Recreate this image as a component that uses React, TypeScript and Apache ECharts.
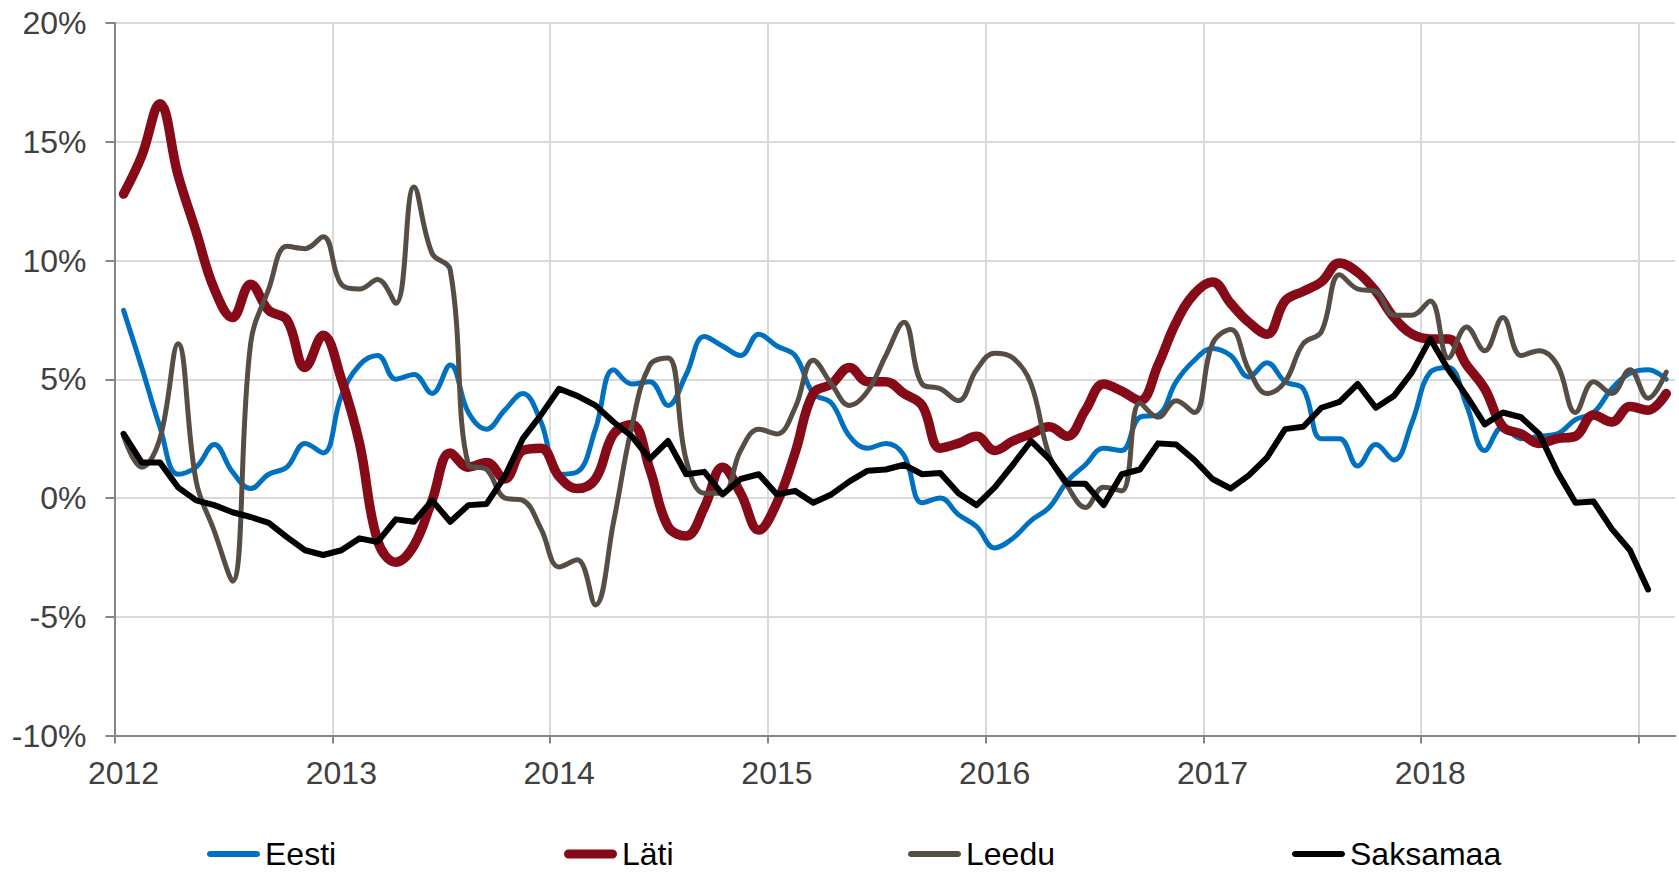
import React, { useEffect, useRef } from "react";
import * as echarts from "echarts";

// Monthly values, Jan 2012 onward (%)
const years = ["2012", "2013", "2014", "2015", "2016", "2017", "2018"];
const seriesNames = ["Eesti", "Läti", "Leedu", "Saksamaa"];

const eesti = [
  7.9, 5.5, 3.0, 1.0, 1.3, 2.25, 1.1, 0.4, 1.0, 1.3, 2.3, 1.9,
  4.3, 5.6, 6.0, 5.0, 5.2, 4.4, 5.6, 3.6, 2.9, 3.7, 4.4, 3.2,
  1.0, 1.1, 2.9, 5.4, 4.8, 4.9, 3.9, 5.2, 6.8, 6.4, 6.0, 6.9,
  6.4, 6.0, 4.4, 4.0, 2.6, 2.1, 2.3, 1.8, -0.2, 0.0, -0.7, -1.2,
  -2.1, -1.7, -0.95, -0.4, 0.7, 1.4, 2.1, 2.0, 3.4, 3.5, 4.9, 5.8,
  6.3, 6.0, 5.1, 5.7, 4.9, 4.6, 2.5, 2.5, 1.35, 2.25, 1.6, 3.2,
  5.3, 5.5, 3.9, 2.0, 3.0, 2.5, 2.6, 2.7, 3.3, 3.6, 4.6, 5.25,
  5.4, 5.0,
];

const lati = [
  12.8, 14.4, 16.6, 13.6, 11.2, 8.8, 7.6, 9.0, 7.9, 7.5, 5.5, 6.85,
  5.0, 2.3, -1.8, -2.7, -2.0, -0.1, 1.9, 1.3, 1.5, 0.8, 2.0, 2.1,
  0.9, 0.4, 0.8, 2.7, 3.1, 1.2, -1.2, -1.6, -0.4, 1.3, 0.2, -1.35,
  -0.2, 1.9, 4.4, 4.8, 5.5, 4.9, 4.9, 4.4, 3.9, 2.1, 2.3, 2.6,
  2.0, 2.4, 2.7, 3.0, 2.6, 3.7, 4.8, 4.5, 4.1, 5.6, 7.4, 8.6,
  9.1, 8.2, 7.4, 6.9, 8.3, 8.7, 9.1, 9.9, 9.5, 8.7, 7.6, 6.9,
  6.7, 6.7, 5.6, 4.6, 3.0, 2.7, 2.3, 2.5, 2.6, 3.5, 3.2, 3.85,
  3.7, 4.4,
];

const leedu = [
  2.6, 1.3, 2.5, 6.5, 0.7, -1.4, -3.5, 6.5, 8.8, 10.6, 10.5, 11.0,
  9.0, 8.8, 9.2, 8.2, 13.1, 10.3, 9.6, 1.4, 1.2, 0.0, -0.1, -1.3,
  -2.9, -2.6, -4.5, -1.0, 3.0, 5.6, 5.9, 1.6, 0.2, 0.2, 2.0, 2.9,
  2.7, 3.8, 5.8, 4.8, 3.9, 4.5, 6.0, 7.4, 4.8, 4.6, 4.1, 5.4,
  6.1, 5.9, 4.8, 1.8, 0.5, -0.4, 0.45, 0.3, 4.0, 3.4, 4.1, 3.6,
  6.5, 7.1, 5.4, 4.4, 4.9, 6.5, 7.0, 9.4, 8.8, 8.7, 7.7, 7.7,
  8.3, 5.9, 7.2, 6.2, 7.6, 6.0, 6.2, 5.6, 3.6, 4.9, 4.4, 5.4,
  4.2, 5.3,
];

const saksamaa = [
  2.7, 1.5, 1.5, 0.45, -0.1, -0.3, -0.6, -0.8, -1.05, -1.65, -2.2, -2.4,
  -2.2, -1.7, -1.85, -0.9, -1.0, -0.1, -1.0, -0.3, -0.25, 0.9, 2.5, 3.5,
  4.6, 4.3, 3.9, 3.2, 2.6, 1.65, 2.4, 1.0, 1.1, 0.15, 0.8, 1.0,
  0.15, 0.3, -0.2, 0.15, 0.7, 1.15, 1.2, 1.4, 1.0, 1.05, 0.2, -0.3,
  0.45, 1.4, 2.4, 1.65, 0.6, 0.6, -0.3, 1.0, 1.2, 2.3, 2.25, 1.6,
  0.8, 0.4, 0.95, 1.7, 2.9, 3.0, 3.8, 4.05, 4.8, 3.8, 4.3, 5.3,
  6.7, 5.4, 4.3, 3.1, 3.6, 3.4, 2.7, 1.1, -0.2, -0.15, -1.3, -2.2,
  -3.85,
];

const yTicks = [-10, -5, 0, 5, 10, 15, 20];

const FONT = "'Liberation Sans', Arial, sans-serif";
const TOTAL_MONTHS = 86;

const toPoints = (arr: number[]) => arr.map((v, i) => [i + 0.5, v]);

// rounded bar icon for the legend (width W, height h)
const roundBar = (W: number, h: number) => {
  const r = h / 2;
  const k = 0.5523 * r;
  const f = (n: number) => n.toFixed(3);
  return (
    "path://" +
    `M${f(r)},0 H${f(W - r)} ` +
    `C${f(W - r + k)},0 ${f(W)},${f(r - k)} ${f(W)},${f(r)} ` +
    `C${f(W)},${f(r + k)} ${f(W - r + k)},${f(h)} ${f(W - r)},${f(h)} ` +
    `H${f(r)} ` +
    `C${f(r - k)},${f(h)} 0,${f(r + k)} 0,${f(r)} ` +
    `C0,${f(r - k)} ${f(r - k)},0 ${f(r)},0 Z`
  );
};

export default function App() {
  const ref = useRef<HTMLDivElement>(null);

  useEffect(() => {
    if (!ref.current) return;
    const chart = echarts.init(ref.current, undefined, { renderer: "svg" });

    const yearTickValues = years.map((_, k) => k * 12).concat([years.length * 12]);
    const yearLabelValues = years.map((_, k) => k * 12 + 0.5);

    const lineSeries = (
      name: string,
      data: number[],
      color: string,
      width: number,
      smooth: boolean | number
    ) => ({
      name,
      type: "line",
      data: toPoints(data),
      xAxisIndex: 0,
      yAxisIndex: 0,
      symbol: "none",
      showSymbol: false,
      smooth,
      lineStyle: { color, width, cap: "round", join: "round" },
      itemStyle: { color },
      emphasis: { disabled: true },
    });

    const legendLefts = [207, 564, 908, 1292];
    const legendIconH = [6, 9, 6, 6];

    chart.setOption({
      animation: false,
      backgroundColor: "#ffffff",
      grid: { left: 114.5, right: 3.7, top: 23, bottom: 136.5, containLabel: false },
      legend: seriesNames.map((name, k) => ({
        left: legendLefts[k],
        top: 838,
        padding: 0,
        itemWidth: 53,
        itemHeight: 14,
        itemGap: 0,
        icon: roundBar(53, legendIconH[k]),
        itemStyle: { borderWidth: 0 },
        textStyle: { fontSize: 32, lineHeight: 28, color: "#000000", fontFamily: FONT },
        data: [{ name, icon: roundBar(53, legendIconH[k]) }],
      })),
      xAxis: [
        {
          type: "value",
          min: 0,
          max: TOTAL_MONTHS,
          interval: 12,
          position: "bottom",
          axisLine: { show: false },
          axisTick: { show: false },
          axisLabel: {
            show: true,
            customValues: yearLabelValues,
            formatter: (v: number) => years[Math.floor(v / 12)] ?? "",
            fontSize: 32,
            color: "#404040",
            fontFamily: FONT,
            margin: 21,
          },
          splitLine: {
            show: true,
            showMinLine: true,
            showMaxLine: false,
            lineStyle: { color: "#D9D9D9", width: 2 },
          },
        },
        {
          type: "value",
          min: 0,
          max: TOTAL_MONTHS,
          interval: 12,
          position: "bottom",
          axisLine: { show: true, onZero: true, lineStyle: { color: "#868686", width: 2 } },
          axisTick: {
            show: true,
            inside: false,
            length: 8,
            customValues: yearTickValues,
            lineStyle: { color: "#868686", width: 2 },
          },
          axisLabel: { show: false },
          splitLine: { show: false },
        },
      ],
      yAxis: {
        type: "value",
        min: yTicks[0],
        max: yTicks[yTicks.length - 1],
        interval: 5,
        axisLine: { show: true, lineStyle: { color: "#868686", width: 2 } },
        axisTick: { show: true, inside: false, length: 9, lineStyle: { color: "#868686", width: 2 } },
        axisLabel: {
          formatter: (v: number) => `${v}%`,
          fontSize: 32,
          color: "#404040",
          fontFamily: FONT,
          margin: 28,
        },
        splitLine: { show: true, lineStyle: { color: "#D9D9D9", width: 2 } },
      },
      series: [
        lineSeries("Eesti", eesti, "#0070C0", 5, 0.4),
        lineSeries("Läti", lati, "#870A19", 9.5, 0.4),
        lineSeries("Leedu", leedu, "#564E44", 5, 0.4),
        lineSeries("Saksamaa", saksamaa, "#000000", 6, false),
      ],
    });

    return () => chart.dispose();
  }, []);

  return (
    <div
      ref={ref}
      style={{ position: "absolute", left: 0, top: 0, width: 1679, height: 872, background: "#fff" }}
    />
  );
}
